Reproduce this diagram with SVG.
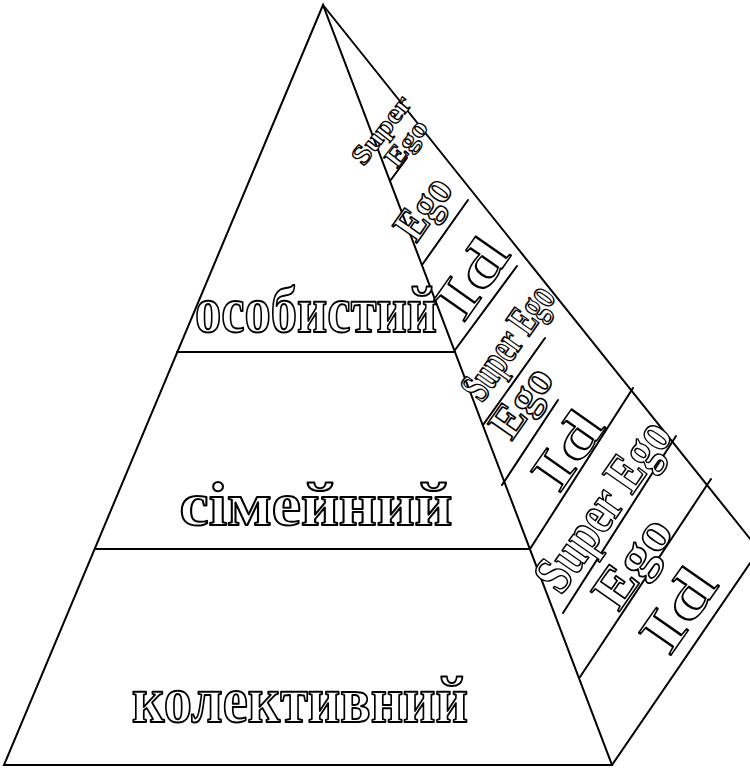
<svg xmlns="http://www.w3.org/2000/svg" width="750" height="768" viewBox="0 0 750 768">
<style>
.e{stroke:#000;stroke-width:2;fill:none;stroke-linecap:round}
.t{font-family:"Liberation Serif","Times New Roman",serif;font-weight:bold;fill:#fff;stroke:#000;stroke-width:2;stroke-linejoin:round;text-anchor:middle}
.s{stroke-width:1.6}
</style>
<rect width="750" height="768" fill="#fff"/>
<g id="connectors">
<path class="e" d="M4,765 L323,5 L612,765 Z"/>
<path class="e" d="M323,5 L759,550 M612,765 L759,550"/>
<path class="e" d="M177,352 H455 M95,549 H530"/>
<path class="e" d="M390,181 L407,158 M422,265 L468,200 M455,350 L517,266"/>
<path class="e" d="M483,425 L545,338 M502,485 L558,400 M530,549 L633,388"/>
<path class="e" d="M563,613 L676,436 M580,677 L711,479"/>
</g>
<g id="front-top"><text class="t" x="316" y="332" font-size="66" textLength="242" lengthAdjust="spacingAndGlyphs">особистий</text></g>
<g id="front-mid"><text class="t" x="316" y="525" font-size="62" textLength="273" lengthAdjust="spacingAndGlyphs">сімейний</text></g>
<g id="front-bottom"><text class="t" x="300" y="722" font-size="66" textLength="336" lengthAdjust="spacingAndGlyphs">колективний</text></g>
<g id="l1-superego">
<text class="t s" transform="translate(381,130) rotate(-52)" y="9" font-size="27" textLength="80" lengthAdjust="spacingAndGlyphs" style="stroke-width:1.2">Super</text>
<text class="t s" transform="translate(406,143) rotate(-52)" y="9" font-size="27" textLength="52" lengthAdjust="spacingAndGlyphs" style="stroke-width:1.2">Ego</text>
</g>
<g id="l1-ego"><text class="t s" transform="translate(423,208) rotate(-55)" y="15" font-size="46" textLength="66" lengthAdjust="spacingAndGlyphs">Ego</text></g>
<g id="l1-id"><text class="t s" transform="translate(471,278) rotate(-55)" y="20" font-size="58" textLength="84" lengthAdjust="spacingAndGlyphs">Id</text></g>
<g id="l2-superego"><text class="t s" transform="translate(507,342) rotate(-55)" y="15" font-size="44" textLength="130" lengthAdjust="spacingAndGlyphs">Super Ego</text></g>
<g id="l2-ego"><text class="t s" transform="translate(521,402) rotate(-55)" y="15" font-size="46" textLength="76" lengthAdjust="spacingAndGlyphs">Ego</text></g>
<g id="l2-id"><text class="t s" transform="translate(567,450) rotate(-55)" y="19" font-size="56" textLength="82" lengthAdjust="spacingAndGlyphs">Id</text></g>
<g id="l3-superego"><text class="t s" transform="translate(602,505) rotate(-55)" y="19" font-size="56" textLength="196" lengthAdjust="spacingAndGlyphs">Super Ego</text></g>
<g id="l3-ego"><text class="t s" transform="translate(632,562) rotate(-55)" y="18" font-size="54" textLength="98" lengthAdjust="spacingAndGlyphs">Ego</text></g>
<g id="l3-id"><text class="t s" transform="translate(678,610) rotate(-55)" y="20" font-size="60" textLength="88" lengthAdjust="spacingAndGlyphs">Id</text></g>
</svg>
